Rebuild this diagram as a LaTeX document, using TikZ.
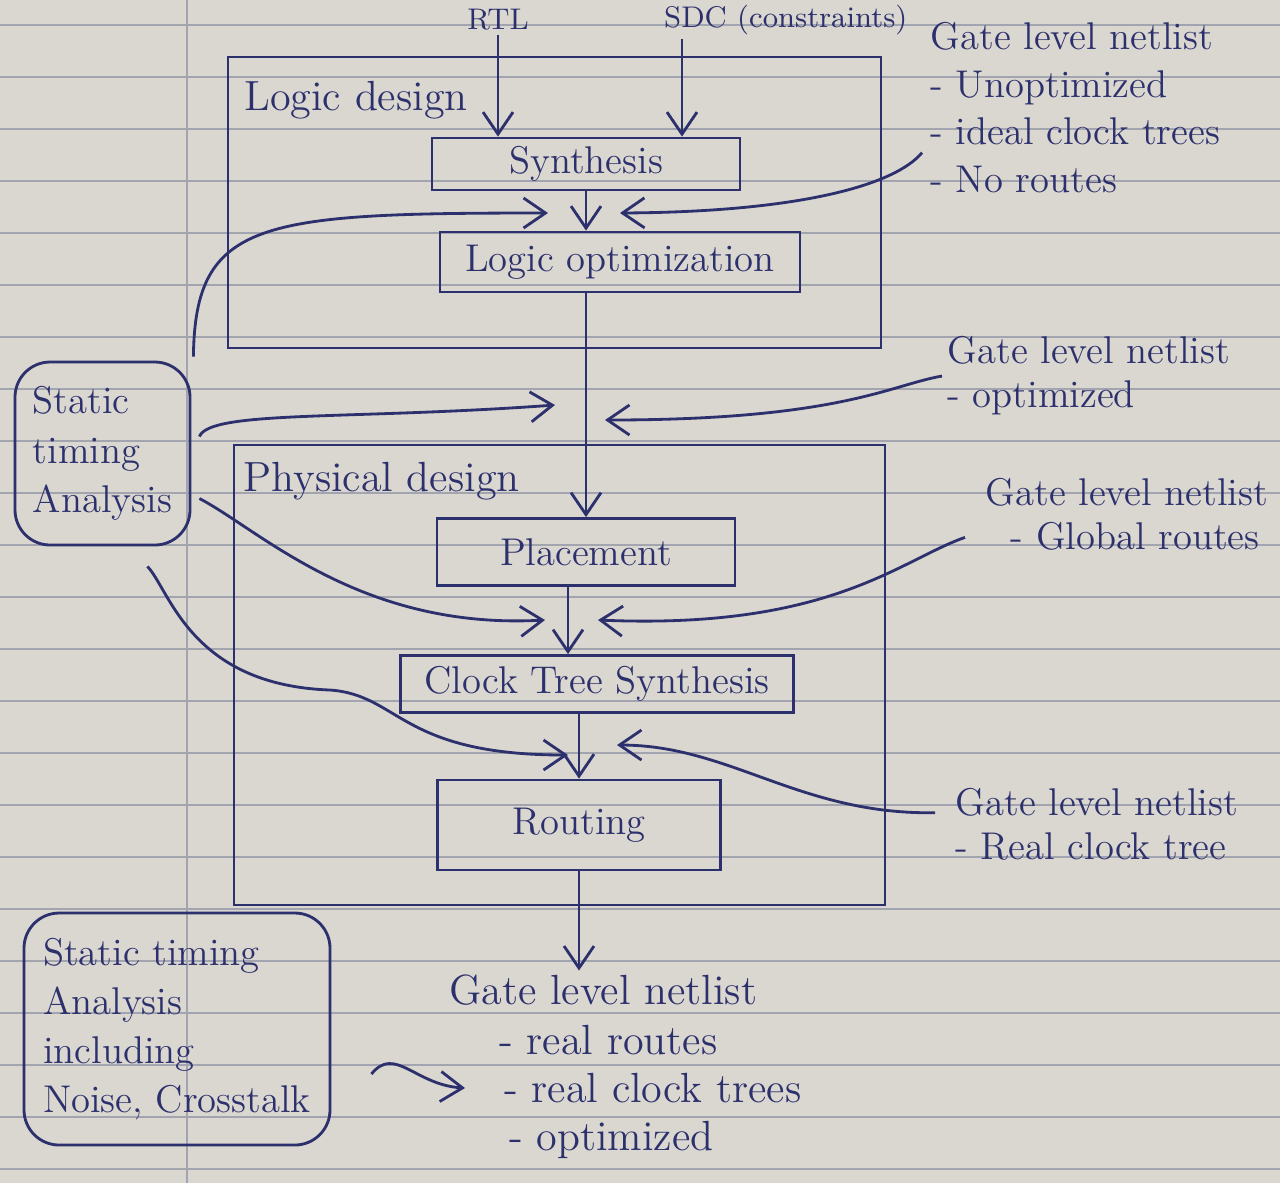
\documentclass[tikz,border=0pt]{standalone}
\usetikzlibrary{arrows.meta,positioning}

\definecolor{ink}{RGB}{44,48,108}
\definecolor{paper}{RGB}{218,214,208}
\definecolor{ruleline}{RGB}{162,164,176}

\tikzset{
  pen/.style={draw=ink,line width=0.8pt},
  tip/.style={pen,-{Straight Barb[length=2.2mm,width=3mm]}},
  ruled/.style={draw=ruleline,line width=0.5pt},
  frame/.style={pen,rectangle,inner sep=0pt},
  framelab/.style={text=ink,inner sep=0pt,anchor=north west,font=\fontsize{12}{14}\selectfont},
  stage/.style={pen,rectangle,text=ink,inner sep=2pt,font=\fontsize{11}{13}\selectfont},
  stabox/.style={pen,rounded corners=10pt,text=ink,align=left,inner sep=2pt,font=\fontsize{11}{14}\selectfont},
  inlab/.style={text=ink,inner sep=1pt,font=\fontsize{8.5}{10}\selectfont},
  note/.style={text=ink,align=left,anchor=north west,inner sep=0pt,font=\fontsize{11}{12.5}\selectfont},
  fin/.style={text=ink,inner sep=1pt,font=\fontsize{12}{14}\selectfont},
}

\begin{document}
\begin{tikzpicture}
  \useasboundingbox (0,0) rectangle (12.8,-11.83);

  % paper
  \fill[paper] (0,0) rectangle (12.8,-11.83);
  \foreach \k in {0,...,22}
    \draw[ruled] (0,-0.25-0.52*\k) -- (12.8,-0.25-0.52*\k);
  \draw[ruled] (1.87,0) -- (1.87,-11.83);

  % logic design
  \node[frame, minimum width=6.53cm, minimum height=2.91cm] (logic) at (5.545,-2.025) {};
  \node[framelab, below right=0.25cm and 0.17cm of logic.north west] (logiclab) {Logic design};
  \node[stage, minimum width=3.08cm, minimum height=0.52cm] (syn) at (5.86,-1.64) {Synthesis};
  \node[stage, minimum width=3.6cm, minimum height=0.6cm] (opt) at (6.2,-2.62) {Logic optimization};

  \node[inlab] (rtl) at (4.98,-0.2) {RTL};
  \node[inlab, anchor=west] (sdc) at (6.6,-0.2) {SDC (constraints)};
  \draw[tip] (rtl.south) -- (rtl.south |- syn.north);
  \draw[tip] ([xshift=2.2mm]sdc.south west) coordinate (sdcin) -- (sdcin |- syn.north);
  \draw[tip] (syn.south) -- (syn.south |- opt.north);

  % physical design
  \node[frame, minimum width=6.51cm, minimum height=4.6cm] (phys) at (5.595,-6.75) {};
  \node[framelab, below right=0.18cm and 0.1cm of phys.north west] (physlab) {Physical design};
  \node[stage, minimum width=2.98cm, minimum height=0.67cm] (place) at (5.86,-5.52) {Placement};
  \node[stage, minimum width=3.93cm, minimum height=0.57cm] (cts) at (5.97,-6.84) {Clock Tree Synthesis};
  \node[stage, minimum width=2.83cm, minimum height=0.9cm] (route) at (5.79,-8.25) {Routing};

  \draw[tip] (opt.south -| place.north) -- (place.north);
  \draw[tip] ([xshift=-1.8mm]place.south) coordinate (p0) -- (p0 |- cts.north);
  \draw[tip] (cts.south -| route.north) -- (route.north);

  % static timing analysis
  \node[stabox, minimum width=1.75cm, minimum height=1.83cm] (sta) at (1.025,-4.535) {Static\\timing\\Analysis};
  \node[stabox, minimum width=3.06cm, minimum height=2.32cm] (stab) at (1.77,-10.29) {Static timing\\Analysis\\including\\Noise, Crosstalk};

  % netlist notes
  \node[note, font=\fontsize{11}{13.5}\selectfont] (n1) at (9.3,-0.22) {Gate level netlist\\- Unoptimized\\- ideal clock trees\\- No routes};
  \node[note] (n2) at (9.47,-3.36) {Gate level netlist\\- optimized};
  \node[note] (n3) at (9.85,-4.78) {Gate level netlist\\\ \ - Global routes};
  \node[note] (n4) at (9.55,-7.88) {Gate level netlist\\- Real clock tree};

  % final netlist
  \node[fin, anchor=west] (fin) at (4.45,-9.9) {Gate level netlist};
  \node[fin, anchor=west] (fin1) at (4.95,-10.4) {- real routes};
  \node[fin, anchor=west] (fin2) at (5.0,-10.88) {- real clock trees};
  \node[fin, anchor=west] (fin3) at (5.05,-11.4) {- optimized};
  \draw[tip] (route.south) -- (route.south |- fin.north);

  % STA and netlist feedback
  \coordinate (in1l) at (5.48,-2.13);
  \coordinate (in1r) at (6.2,-2.13);
  \coordinate (in2l) at (5.55,-4.05);
  \coordinate (in2r) at (6.05,-4.2);
  \coordinate (in3l) at (5.45,-6.2);
  \coordinate (in3r) at (5.98,-6.2);
  \coordinate (in4l) at (5.68,-7.55);
  \coordinate (in4r) at (6.17,-7.45);

  \draw[tip] ([shift={(0.02,0.04)}]sta.north east) .. controls (1.95,-2.2) and (2.6,-2.13) .. (in1l);
  \draw[tip] ([shift={(-0.08,-0.45)}]n1.west) .. controls (8.95,-1.85) and (8.0,-2.12) .. (in1r);
  \draw[tip] ([shift={(0.08,0.17)}]sta.east) .. controls (2.1,-4.1) and (3.5,-4.2) .. (in2l);
  \draw[tip] ([xshift=-0.5mm]n2.west) .. controls (8.9,-3.85) and (8.4,-4.2) .. (in2r);
  \draw[tip] ([shift={(0.08,-0.45)}]sta.east) .. controls (2.6,-5.3) and (3.6,-6.3) .. (in3l);
  \draw[tip] ([shift={(-0.2,0.14)}]n3.south west) .. controls (9.0,-5.6) and (8.3,-6.3) .. (in3r);
  \draw[tip] ([shift={(-0.44,-0.2)}]sta.south east) .. controls (1.7,-5.9) and (1.9,-6.85) .. (3.3,-6.9)
    .. controls (4.0,-6.95) and (4.0,-7.55) .. (in4l);
  \draw[tip] ([shift={(-0.2,0.12)}]n4.west) .. controls (8.0,-8.15) and (7.3,-7.45) .. (in4r);

  % crosstalk check
  \draw[tip] ([shift={(0.4,-0.45)}]stab.east) .. controls (3.95,-10.45) and (4.15,-10.85) .. ([xshift=-3.5mm]fin2.west);
\end{tikzpicture}
\end{document}
